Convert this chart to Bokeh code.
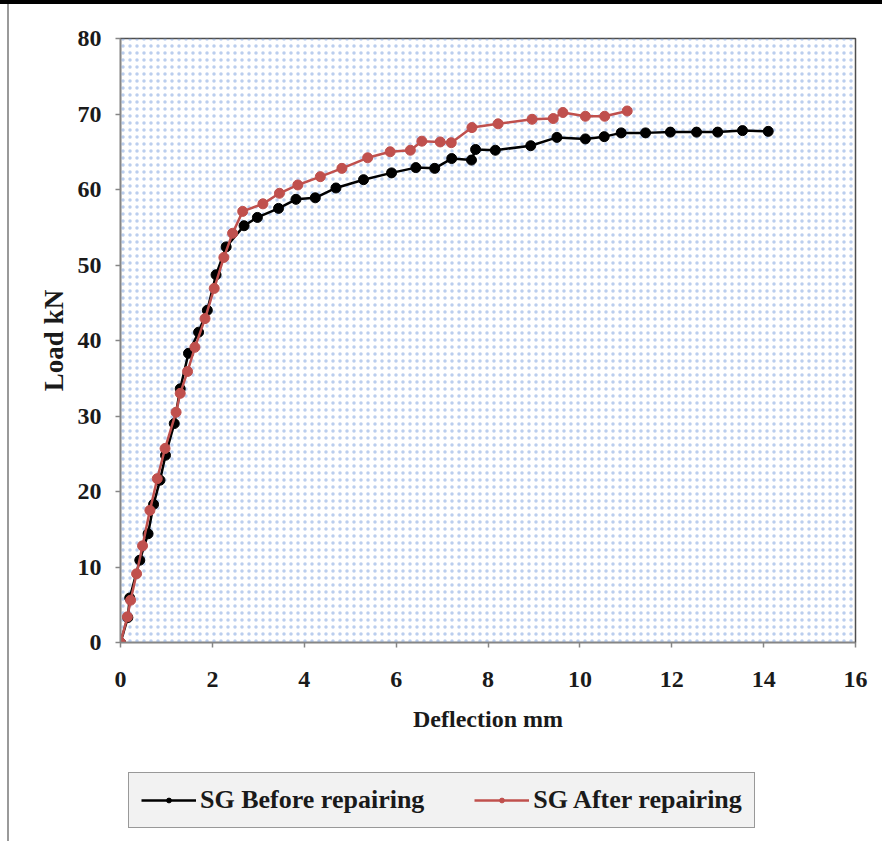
from bokeh.plotting import figure
from bokeh.layouts import column
from bokeh.models import Range1d, BoxAnnotation, Legend, LegendItem, FixedTicker, ColumnDataSource
from bokeh.embed import file_html
from bokeh.resources import INLINE

# ---- data ----
before_x = [0, 0.16, 0.2, 0.42, 0.6, 0.72, 0.86, 0.98, 1.17, 1.3, 1.48, 1.7, 1.89, 2.08, 2.3,
            2.69, 2.98, 3.44, 3.82, 4.24, 4.69, 5.29, 5.9, 6.43, 6.84, 7.21, 7.64, 7.73,
            8.16, 8.93, 9.5, 10.12, 10.53, 10.9, 11.43, 11.97, 12.54, 13.0, 13.54, 14.1]
before_y = [0, 3.3, 5.9, 10.9, 14.4, 18.3, 21.5, 24.8, 29.0, 33.6, 38.3, 41.1, 44.0, 48.7, 52.4,
            55.2, 56.3, 57.5, 58.7, 58.9, 60.2, 61.3, 62.2, 62.9, 62.8, 64.1, 63.9, 65.3,
            65.2, 65.8, 66.9, 66.7, 67.0, 67.5, 67.5, 67.6, 67.6, 67.6, 67.8, 67.7]

after_x = [0, 0.15, 0.22, 0.35, 0.48, 0.64, 0.8, 0.97, 1.21, 1.3, 1.46, 1.62, 1.84, 2.04, 2.25,
           2.44, 2.66, 3.1, 3.46, 3.86, 4.35, 4.82, 5.38, 5.87, 6.31, 6.56, 6.96, 7.2,
           7.65, 8.22, 8.96, 9.42, 9.63, 10.12, 10.54, 11.03]
after_y = [0, 3.4, 5.6, 9.1, 12.8, 17.5, 21.7, 25.7, 30.5, 33.0, 35.9, 39.1, 42.9, 46.9, 51.0,
           54.2, 57.1, 58.1, 59.5, 60.6, 61.7, 62.8, 64.2, 65.0, 65.2, 66.4, 66.3, 66.2,
           68.2, 68.7, 69.3, 69.4, 70.2, 69.7, 69.7, 70.4]

x_ticks = [0, 2, 4, 6, 8, 10, 12, 14, 16]
y_ticks = [0, 10, 20, 30, 40, 50, 60, 70, 80]
series_names = ["SG Before repairing", "SG After repairing"]
series_colors = ["#000000", "#c0504d"]

FONT = "Liberation Serif"

# ---------------- main chart ----------------
p = figure(width=882, height=760, output_backend="svg", toolbar_location=None,
           x_range=Range1d(0, 16), y_range=Range1d(0, 80),
           min_border_left=120, min_border_right=27, min_border_top=38, min_border_bottom=118)
p.border_fill_alpha = 0
p.background_fill_color = "white"
p.outline_line_color = "#4d4d4d"
p.outline_line_width = 1.5
p.xgrid.visible = False
p.ygrid.visible = False

# dotted fill of the plot area
p.add_layout(BoxAnnotation(fill_alpha=0, line_alpha=0, hatch_pattern=".", hatch_color="#8eaee3",
                           hatch_alpha=0.6, hatch_scale=7, hatch_weight=1, level="underlay"))

for ax, ticks in ((p.xaxis[0], x_ticks), (p.yaxis[0], y_ticks)):
    ax.ticker = FixedTicker(ticks=ticks)
    ax.minor_tick_line_color = None
    ax.major_tick_in = 0
    ax.major_tick_out = 5
    ax.major_tick_line_color = "#868686"
    ax.major_tick_line_width = 1.5
    ax.axis_line_color = "#868686"
    ax.axis_line_width = 1.5
    ax.major_label_text_font = FONT
    ax.major_label_text_font_style = "bold"
    ax.major_label_text_font_size = "24px"
    ax.major_label_text_color = "#1a1a1a"
    ax.axis_label_text_font = FONT
    ax.axis_label_text_font_style = "bold"
    ax.axis_label_text_color = "#1a1a1a"

p.xaxis.axis_label = "Deflection mm"
p.xaxis.axis_label_text_font_size = "24px"
p.xaxis.major_label_standoff = 24
p.xaxis.axis_label_standoff = 16
p.yaxis.axis_label = "Load kN"
p.yaxis.axis_label_text_font_size = "27px"
p.yaxis.major_label_standoff = 14
p.yaxis.axis_label_standoff = 6

for xs, ys, col in ((before_x, before_y, series_colors[0]), (after_x, after_y, series_colors[1])):
    src = ColumnDataSource(dict(x=xs, y=ys))
    p.line("x", "y", source=src, line_color=col, line_width=2.5)
    p.scatter("x", "y", source=src, size=10, fill_color=col, line_color=col)

# ---------------- legend strip (frame aligned with the chart's frame) ----------------
q = figure(width=882, height=81, output_backend="svg", toolbar_location=None,
           x_range=Range1d(0, 1), y_range=Range1d(0, 1),
           min_border_left=120, min_border_right=27, min_border_top=0, min_border_bottom=0)
q.axis.visible = False
q.grid.visible = False
q.outline_line_color = None
q.border_fill_alpha = 0
q.background_fill_alpha = 0

items = []
for name, col in zip(series_names, series_colors):
    src = ColumnDataSource(dict(x=[-10], y=[-10]))
    ln = q.line("x", "y", source=src, line_color=col, line_width=2.5)
    sc = q.scatter("x", "y", source=src, size=10, fill_color=col, line_color=col)
    items.append(LegendItem(label=name, renderers=[ln, sc]))

legend = Legend(items=items, orientation="horizontal", location=(8, 13), margin=0,
                background_fill_color="#f2f2f2", background_fill_alpha=1,
                border_line_color="#404040", border_line_width=1.5,
                padding=12, spacing=50, glyph_width=55, glyph_height=12, label_height=12,
                label_standoff=4,
                label_text_font=FONT, label_text_font_style="bold", label_text_font_size="26px",
                label_text_color="#1a1a1a", label_text_baseline="middle")
q.add_layout(legend, "center")

layout = column(p, q, spacing=0)
# page decorations (top dark bar, left grey rule)
layout.styles = {
    "background-color": "white",
    "background-image": "linear-gradient(#000000, #000000), linear-gradient(#9a9a9a, #9a9a9a)",
    "background-size": "100% 4px, 2px 100%",
    "background-position": "0 0, 7px 0",
    "background-repeat": "no-repeat",
}

open("out.html", "w").write(file_html(layout, INLINE))
